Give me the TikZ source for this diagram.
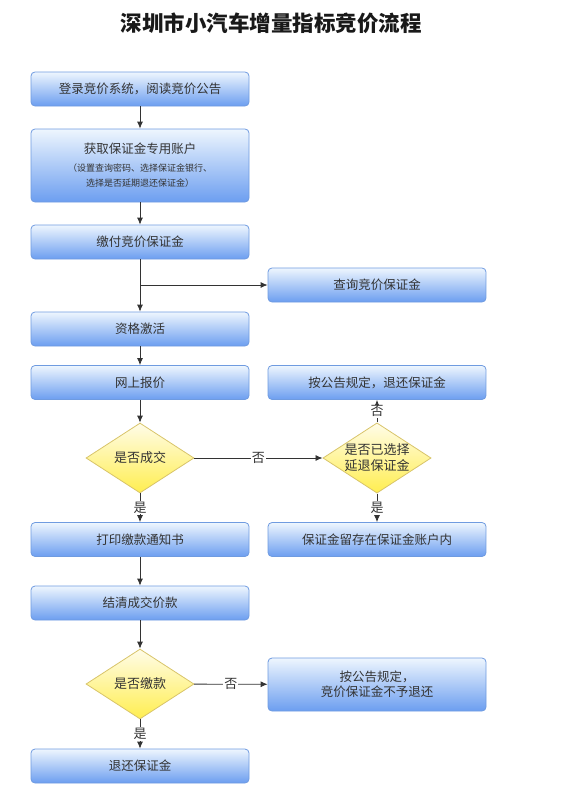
\documentclass[tikz,border=0pt]{standalone}
\usepackage{fontspec}
\setmainfont{Noto Sans CJK SC}
\usepackage{tikz}
\usetikzlibrary{positioning,shapes.geometric,arrows.meta}

\definecolor{boxtop}{HTML}{EEF6FE}
\definecolor{boxbot}{HTML}{6C9EF0}
\definecolor{boxline}{HTML}{6F9BE0}
\definecolor{dectop}{HTML}{FFFCE8}
\definecolor{decbot}{HTML}{FFEE50}
\definecolor{decline}{HTML}{D8C46A}
\definecolor{txt}{HTML}{333333}

\begin{document}
\begin{tikzpicture}[x=1pt,y=-1pt,
        >={Latex[length=7pt,width=6pt]},
        process/.style={draw=boxline, line width=0.8pt, rounded corners=4pt,
            top color=boxtop, bottom color=boxbot, minimum width=218pt,
            minimum height=34pt, inner sep=0pt, align=center, text=txt,
            font=\fontsize{12.5}{15}\selectfont},
        decision/.style={diamond, draw=decline, line width=0.8pt,
            top color=dectop, bottom color=decbot, minimum width=108pt,
            minimum height=70pt, aspect=1.54, inner sep=0pt, align=center,
            text=txt, font=\fontsize{13}{16}\selectfont},
        flow/.style={->, draw=txt, line width=0.8pt},
        answer/.style={fill=white, inner sep=1pt, text=txt,
            font=\fontsize{13}{15}\selectfont}]
        \useasboundingbox (0,0) rectangle (566,800);

        % Title
        \node[text=black!90] (title) at (271,23) {\fontsize{21.5}{26}\selectfont\bfseries 深圳市小汽车增量指标竞价流程};

        % Main column
        \node[process] (login) at (140,89) {登录竞价系统，阅读竞价公告};
        \node[process, minimum height=73pt] (account) at (140,165.5) {获取保证金专用账户\\[3pt]
            {\fontsize{9}{12}\selectfont（设置查询密码、选择保证金银行、}\\
            {\fontsize{9}{12}\selectfont 选择是否延期退还保证金）}};
        \node[process] (pay) at (140,242) {缴付竞价保证金};
        \node[process] (activate) at (140,329) {资格激活};
        \node[process] (bid) at (140,382.5) {网上报价};
        \node[decision] (deal) at (140,458) {是否成交};
        \node[process] (notice) at (140,539.5) {打印缴款通知书};
        \node[process] (settle) at (140,603) {结清成交价款};
        \node[decision] (paid) at (140,684) {是否缴款};
        \node[process] (refund) at (140,766) {退还保证金};

        % Right column
        \node[process] (query) at (377,285) {查询竞价保证金};
        \node[process] (back) at (377,382.5) {按公告规定，退还保证金};
        \node[decision] (chosen) at (377,458) {是否已选择\\延退保证金};
        \node[process] (keep) at (377,539.5) {保证金留存在保证金账户内};
        \node[process, minimum height=53pt] (forfeit) at (377,684.5) {按公告规定，\\竞价保证金不予退还};

        % Connectors
        \draw[flow] (login) -- (account);
        \draw[flow] (account) -- (pay);
        \draw[flow] (pay) -- (activate);
        \draw[flow] (pay.south |- query.west) -- (query.west);
        \draw[flow] (activate) -- (bid);
        \draw[flow] (bid) -- (deal);
        \draw[flow] (deal) -- node[answer] {否} (chosen);
        \draw[flow] (chosen) -- node[answer] {否} (back);
        \draw[flow] (chosen) -- node[answer] {是} (keep);
        \draw[flow] (deal) -- node[answer] {是} (notice);
        \draw[flow] (notice) -- (settle);
        \draw[flow] (settle) -- (paid);
        \draw[flow] (paid) -- node[answer] {否} (forfeit);
        \draw[flow] (paid) -- node[answer] {是} (refund);
    \end{tikzpicture}
\end{document}
